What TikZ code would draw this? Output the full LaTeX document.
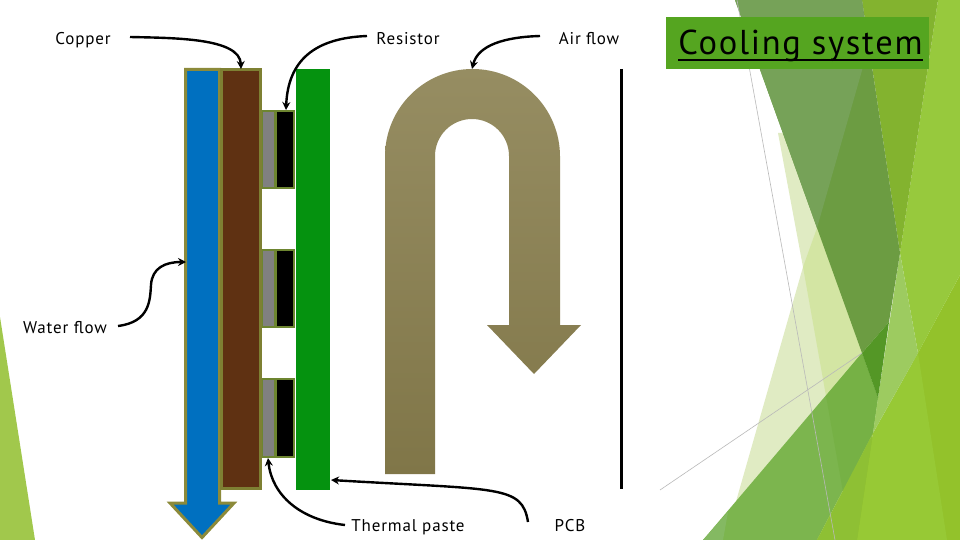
\documentclass[tikz,border=0pt]{standalone}
\usepackage{fontspec}
\setmainfont{PT Sans}[LetterSpace=5]
\usetikzlibrary{arrows.meta}
\tikzset{
  lab/.style={font=\fontsize{17}{20}\selectfont,text=black,inner sep=0pt},
  conn/.style={draw=black,line width=2.4pt,-{Stealth[length=8pt,width=8pt]}},
  box/.style={inner sep=0pt,outer sep=0pt,line width=3pt},
  thin line/.style={draw=gray!55,line width=.6pt},
  brownbox/.style={box,draw=ol,fill=brownc},
  olivebox/.style={box,fill=olb},
  graybox/.style={inner sep=0pt,outer sep=0pt,fill=grayc},
  blackbox/.style={inner sep=0pt,outer sep=0pt,fill=black},
}
\definecolor{ol}{HTML}{7E8033}
\definecolor{olb}{HTML}{6D8530}
\definecolor{brownc}{HTML}{5F3112}
\definecolor{grayc}{HTML}{808080}
\definecolor{arrowol}{HTML}{8C8A3A}
\definecolor{waterc}{HTML}{0070C0}
\definecolor{pcbc}{HTML}{05920F}
\definecolor{titlec}{HTML}{55A520}
\begin{document}
\begin{tikzpicture}[x=1pt,y=-1pt]
\useasboundingbox (0,0) rectangle (960,540);
% background facets
\fill[fill=white] (0,0) rectangle (960,540);
\fill[fill={rgb,255:red,161;green,200;blue,76}] (0,317) -- (35,540) -- (0,540) -- cycle;
\fill[fill={rgb,255:red,224;green,235;blue,195}] (778,133) -- (830,133) -- (862,353) -- (735,505) -- (803,267) -- cycle;
\fill[fill={rgb,255:red,211;green,229;blue,163}] (817,228) -- (850,228) -- (862,353) -- (826,396) -- (803,267) -- cycle;
\fill[fill={rgb,255:red,124;green,181;blue,78}] (703,540) -- (862,353) -- (878,398) -- (873,433) -- (817,540) -- cycle;
\fill[fill={rgb,255:red,118;green,177;blue,69}] (826,396) -- (862,353) -- (878,398) -- (873,433) -- (843,492) -- cycle;
\fill[fill={rgb,255:red,132;green,185;blue,98}] (703,540) -- (728,512) -- (723,540) -- cycle;
\fill[fill={rgb,255:red,147;green,194;blue,43}] (817,540) -- (960,275) -- (960,540) -- cycle;
\fill[fill={rgb,255:red,151;green,201;blue,53}] (873,433) -- (918,353) -- (947,540) -- (857,540) -- cycle;
\fill[fill={rgb,255:red,142;green,192;blue,52}] (817,540) -- (873,433) -- (857,540) -- cycle;
\fill[fill={rgb,255:red,151;green,201;blue,61}] (938,0) -- (960,0) -- (960,275) -- (918,353) -- (900,253) -- cycle;
\fill[fill={rgb,255:red,157;green,203;blue,96}] (900,253) -- (918,353) -- (873,433) -- (878,398) -- cycle;
\fill[fill={rgb,255:red,131;green,179;blue,47}] (862,0) -- (938,0) -- (900,253) -- cycle;
\fill[fill={rgb,255:red,108;green,156;blue,66}] (735,0) -- (862,0) -- (900,253) -- (889,322) -- (862,353) -- cycle;
\fill[fill={rgb,255:red,118;green,162;blue,88}] (735,0) -- (862,0) -- (868,45) -- (863,67) -- (817,228) -- cycle;
\fill[fill={rgb,255:red,84;green,151;blue,38}] (862,353) -- (889,322) -- (878,398) -- cycle;
\draw[thin line] (737,0) -- (835,540);
\draw[thin line] (660,490) -- (862,353);
% air flow arrow
\shade[top color={rgb,255:red,150;green,141;blue,98},bottom color={rgb,255:red,128;green,118;blue,72}]
  (385,474) -- (385,156.5) arc[start angle=180,end angle=360,radius=87.5] -- (560,325) -- (581,325) -- (534,374) -- (487,325) -- (509,325) -- (509,156) arc[start angle=360,end angle=180,radius=37] -- (435,474) -- cycle;
% water flow arrow
\draw[line width=3pt,draw=arrowol,fill=waterc,miter limit=10]
  (185.5,69.5) -- (219.5,69.5) -- (219.5,503) -- (234,503) -- (202,537.5) -- (170,503) -- (185.5,503) -- cycle;
% copper
\node[brownbox,minimum width=39pt,minimum height=419pt] (copperbox) at (241,279) {};
% resistors
\node[olivebox,minimum width=33pt,minimum height=79pt] (olive1) at (278.5,149.5) {};
\node[graybox,minimum width=11pt,minimum height=75pt] (gray1) at (268.5,149.5) {};
\node[blackbox,minimum width=16pt,minimum height=75pt] (res1) at (285,149.5) {};
\node[olivebox,minimum width=33pt,minimum height=79pt] (olive2) at (278.5,288.5) {};
\node[graybox,minimum width=11pt,minimum height=75pt] (gray2) at (268.5,288.5) {};
\node[blackbox,minimum width=16pt,minimum height=75pt] (res2) at (285,288.5) {};
\node[olivebox,minimum width=33pt,minimum height=80pt] (olive3) at (278.5,418) {};
\node[graybox,minimum width=11pt,minimum height=76pt] (gray3) at (268.5,418) {};
\node[blackbox,minimum width=16pt,minimum height=76pt] (res3) at (285,418) {};
% pcb
\node[inner sep=0pt,outer sep=0pt,fill=pcbc,minimum width=34pt,minimum height=421pt] (pcb) at (313,279.5) {};
% line
\coordinate (lineA) at (621,69);
\coordinate (lineB) at (621,489);
\draw[line width=3pt,black] (lineA) -- (lineB);
% title
\node[inner sep=0pt,outer sep=0pt,fill=titlec,minimum width=263pt,minimum height=52pt] (titlebox) at (797.5,43) {};
\node[font=\fontsize{34.5}{40}\selectfont,inner sep=0pt,anchor=base] (title) at (800.5,55) {Cooling system};
\draw[line width=2.6pt,black] ([yshift=-5pt]title.base west) -- ([yshift=-5pt]title.base east);
% labels
\node[lab] (copper) at (83,40) {Copper};
\node[lab] (resistor) at (408,39) {Resistor};
\node[lab] (air) at (589,39) {Air flow};
\node[lab] (water) at (65,328) {Water flow};
\node[lab] (paste) at (408,527) {Thermal paste};
\node[lab] (pcbl) at (570,526) {PCB};
% connectors
\coordinate (copperEnd) at (241,69);
\coordinate (resEnd) at (286,110);
\coordinate (airEnd) at (472,69);
\coordinate (waterEnd) at (186,262);
\coordinate (pasteEnd) at (268,458);
\coordinate (pcbEnd) at (331,480);
\coordinate (cs) at (130,37);
\coordinate (rs) at (367,36);
\coordinate (as) at (540,36);
\coordinate (ws) at (118,326);
\coordinate (ps) at (345,525);
\coordinate (bs) at (528,522);
\draw[conn] (cs) .. controls (175,38) and (240,38) .. (copperEnd);
\draw[conn] (rs) .. controls (315,38) and (288,60) .. (resEnd);
\draw[conn] (as) .. controls (505,37) and (478,45) .. (airEnd);
\draw[conn] (ws) .. controls (150,322) and (150,300) .. (151,285) .. controls (152,268) and (165,262) .. (waterEnd);
\draw[conn] (ps) .. controls (300,520) and (272,495) .. (pasteEnd);
\draw[conn] (bs) .. controls (522,485) and (500,490) .. (pcbEnd);
\end{tikzpicture}
\end{document}
